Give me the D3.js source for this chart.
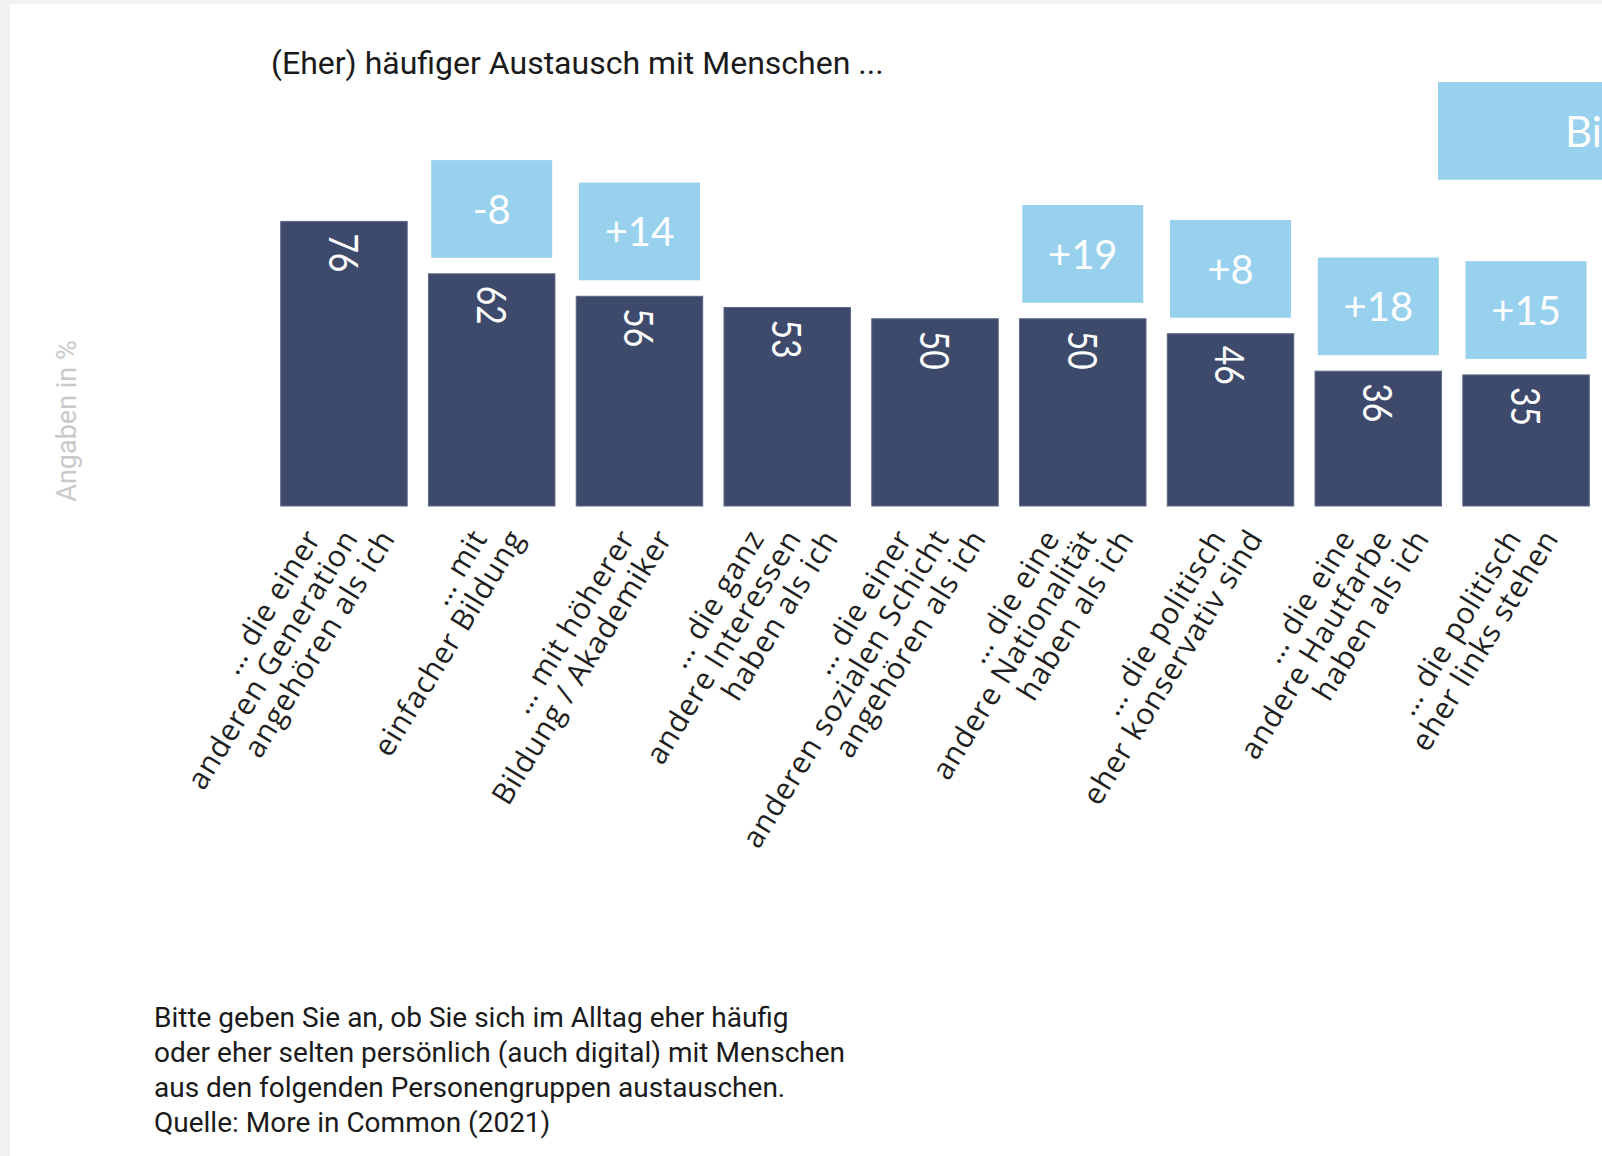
<!DOCTYPE html>
<html lang="de">
<head>
<meta charset="UTF-8">
<title>Austausch mit Menschen</title>
<style>
  body { margin: 0; background: #f2f2f2; }
  svg { display: block; }
  .title, .note { font-family: Roboto, 'Liberation Sans', sans-serif; fill: #1a1a1a; }
  .cat { font-family: 'Open Sans', sans-serif; font-size: 30px; letter-spacing: 0.8px; fill: #1f1f1f; }
  .num { font-family: Lato, sans-serif; fill: #fff; }
</style>
</head>
<body>
<svg width="1602" height="1156"></svg>
<script src="https://d3js.org/d3.v7.min.js"></script>
<script>
// Werte (Angaben in %)
const values = [76, 62, 56, 53, 50, 50, 46, 36, 35];
// Differenz-Kästchen (null = keins)
const deltas = [null, "-8", "+14", null, null, "+19", "+8", "+18", "+15"];
const labels = [
  ["… die einer", "anderen Generation", "angehören als ich"],
  ["… mit", "einfacher Bildung"],
  ["… mit höherer", "Bildung / Akademiker"],
  ["… die ganz", "andere Interessen", "haben als ich"],
  ["… die einer", "anderen sozialen Schicht", "angehören als ich"],
  ["… die eine", "andere Nationalität", "haben als ich"],
  ["… die politisch", "eher konservativ sind"],
  ["… die eine", "andere Hautfarbe", "haben als ich"],
  ["… die politisch", "eher links stehen"]
];
const noteLines = [
  "Bitte geben Sie an, ob Sie sich im Alltag eher häufig",
  "oder eher selten persönlich (auch digital) mit Menschen",
  "aus den folgenden Personengruppen austauschen.",
  "Quelle: More in Common (2021)"
];

const svg = d3.select("svg");
const barColor = "#3e4a6b", boxColor = "#97d1ee";

// weisse Fläche mit grauem Rand links/oben
svg.append("rect").attr("x", 10).attr("y", 4).attr("width", 1602).attr("height", 1156).attr("fill", "#fff");

const x = d3.scaleBand().domain(d3.range(values.length)).range([280.7, 1589.3]).paddingInner(0.144).paddingOuter(0);
const y = d3.scaleLinear().domain([0, 80]).range([506, 206.4]);

svg.append("text").attr("class", "title")
  .attr("x", 271).attr("y", 74).attr("font-size", 32)
  .text("(Eher) häufiger Austausch mit Menschen ...");

svg.append("text")
  .attr("transform", "translate(76,421) rotate(-90)")
  .attr("text-anchor", "middle")
  .attr("font-family", "Roboto, sans-serif").attr("font-size", 27)
  .attr("fill", "#c9c9c9")
  .text("Angaben in %");

// Legende (rechts abgeschnitten)
svg.append("rect").attr("x", 1438).attr("y", 82).attr("width", 200).attr("height", 97.7).attr("fill", boxColor);
svg.append("text").attr("class", "num").attr("x", 1565).attr("y", 147).attr("font-size", 42).text("Bi");

const bars = svg.selectAll(".bar").data(values).enter().append("g");

bars.append("rect")
  .attr("x", (d, i) => x(i))
  .attr("y", d => y(d))
  .attr("width", x.bandwidth())
  .attr("height", d => y(0) - y(d))
  .attr("fill", barColor)
  .attr("stroke", "#5d6786").attr("stroke-width", 1);

bars.append("text").attr("class", "num")
  .attr("transform", (d, i) => `translate(${x(i) + x.bandwidth() / 2},${y(d) + 12}) rotate(90) scale(0.84,1)`)
  .attr("dominant-baseline", "central")
  .attr("font-size", 40)
  .text(d => d);

const boxW = 121, boxH = 97.7;
const withDelta = values.map((v, i) => ({ v, i, d: deltas[i] })).filter(o => o.d !== null);
const boxes = svg.selectAll(".delta").data(withDelta).enter().append("g");
boxes.append("rect")
  .attr("x", o => x(o.i) + x.bandwidth() / 2 - boxW / 2)
  .attr("y", o => y(o.v) - 16 - boxH)
  .attr("width", boxW).attr("height", boxH)
  .attr("fill", boxColor);
boxes.append("text").attr("class", "num")
  .attr("x", o => x(o.i) + x.bandwidth() / 2)
  .attr("y", o => y(o.v) - 16 - boxH / 2 + 15)
  .attr("text-anchor", "middle").attr("font-size", 40)
  .text(o => o.d);

// schräge Kategorienbeschriftung
labels.forEach((lines, i) => {
  const cx = x(i) + x.bandwidth() / 2;
  lines.forEach((t, j) => {
    const ex = cx + 15 + (j - (lines.length - 1) / 2) * 37;
    svg.append("text").attr("class", "cat")
      .attr("transform", `translate(${ex},538) rotate(-58.5)`)
      .attr("text-anchor", "end")
      .text(t);
  });
});

svg.selectAll(".note").data(noteLines).enter().append("text")
  .attr("class", "note")
  .attr("x", 154).attr("y", (d, i) => 1027 + i * 35)
  .attr("font-size", 28)
  .text(d => d);
</script>
</body>
</html>
